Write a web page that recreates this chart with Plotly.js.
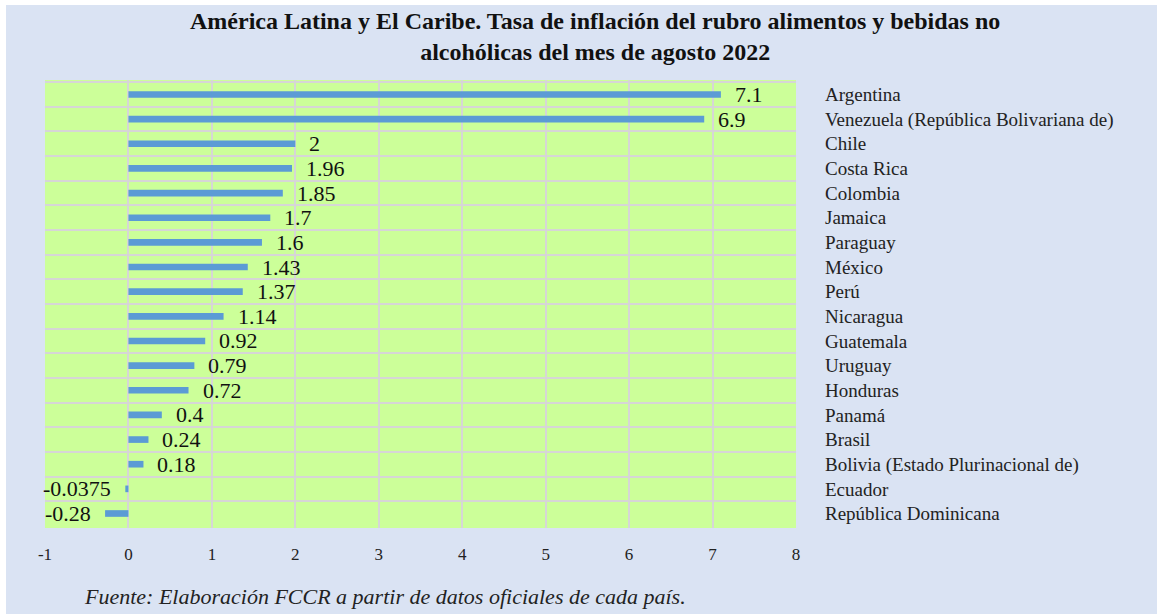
<!DOCTYPE html>
<html><head><meta charset="utf-8">
<script src="https://cdn.plot.ly/plotly-3.0.1.min.js"></script>
<style>
html,body{margin:0;padding:0;background:#ffffff;width:1157px;height:614px;overflow:hidden;}
#chart{position:absolute;left:6px;top:5px;width:1151px;height:609px;}
</style></head>
<body><div id="chart"></div>
<script>
const countries = ["Argentina","Venezuela (República Bolivariana de)","Chile","Costa Rica","Colombia","Jamaica","Paraguay","México","Perú","Nicaragua","Guatemala","Uruguay","Honduras","Panamá","Brasil","Bolivia (Estado Plurinacional de)","Ecuador","República Dominicana"];
const inflation = [7.1,6.9,2,1.96,1.85,1.7,1.6,1.43,1.37,1.14,0.92,0.79,0.72,0.4,0.24,0.18,-0.0375,-0.28];
const xTicks = [-1,0,1,2,3,4,5,6,7,8];
const xTickLabels = ["-1","0","1","2","3","4","5","6","7","8"];
const titleText = "América Latina y El Caribe. Tasa de inflación del rubro alimentos y bebidas no<br>alcohólicas del mes de agosto 2022";
const sourceText = "Fuente: Elaboración FCCR a partir de datos oficiales de cada país.";

const serif = "Liberation Serif";

const trace = {
  type: 'bar', orientation: 'h',
  x: inflation, y: countries,
  width: 0.27,
  marker: {color: '#5b9bd5'},
  hoverinfo: 'x+y'
};

const annotations = inflation.map((v, i) => ({
  x: v, y: countries[i], xref: 'x', yref: 'y',
  text: String(v), showarrow: false,
  xanchor: v >= 0 ? 'left' : 'right',
  xshift: v >= 0 ? 12 : -12,
  font: {family: serif, size: 22, color: '#111'}
}));
annotations.push({
  xref: 'paper', yref: 'paper', x: 0.733, y: 1.098, xanchor: 'center', yanchor: 'middle',
  text: '<b>' + titleText + '</b>', showarrow: false,
  font: {family: serif, size: 24, color: '#111'}
});
annotations.push({
  xref: 'paper', yref: 'paper', x: 0.049, y: -0.154, xanchor: 'left', yanchor: 'middle',
  text: '<i>' + sourceText + '</i>', showarrow: false,
  font: {family: serif, size: 22, color: '#222'}
});

const layout = {
  width: 1151, height: 609,
  paper_bgcolor: '#dae3f3', plot_bgcolor: '#ccff99',
  margin: {l: 39, r: 361, t: 75, b: 86},
  xaxis: {range: [-1, 8], tickvals: xTicks, ticktext: xTickLabels, showgrid: true, gridcolor: '#d6d6d6', gridwidth: 2,
          zeroline: false, showline: false, ticks: '', ticklabelstandoff: 14,
          tickfont: {family: serif, size: 17, color: '#222'}, fixedrange: true},
  yaxis: {type: 'category', autorange: 'reversed', side: 'right', tickson: 'boundaries',
          showgrid: true, gridcolor: '#d6d6d6', gridwidth: 2, showline: false, ticks: '',
          ticklabelstandoff: 28, tickfont: {family: serif, size: 19, color: '#222'}, fixedrange: true},
  showlegend: false,
  annotations: annotations
};

Plotly.newPlot('chart', [trace], layout, {displayModeBar: false, staticPlot: true});
</script></body></html>
